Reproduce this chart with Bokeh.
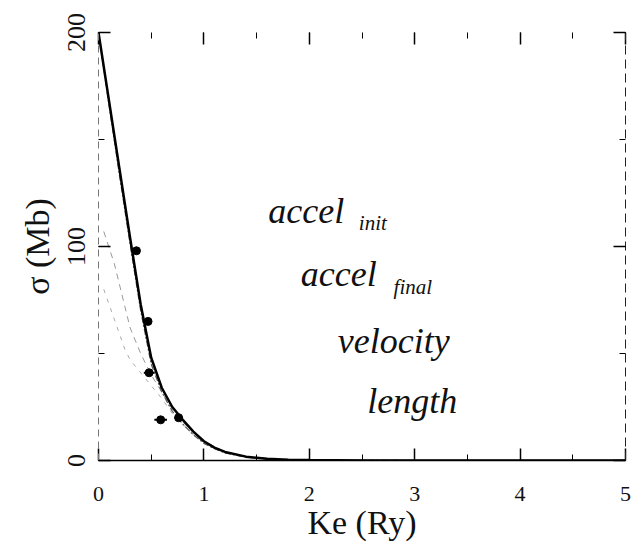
from bokeh.plotting import figure
from bokeh.models import LinearAxis, SingleIntervalTicker, ColumnDataSource, CustomLabelingPolicy
from bokeh.core.properties import value
from bokeh.embed import file_html
from bokeh.resources import INLINE

# ---- data ----
ke = [0.0, 0.1, 0.2, 0.3, 0.4, 0.5, 0.6, 0.7, 0.8, 0.9, 1.0, 1.1, 1.2, 1.4, 1.6, 1.8, 2.0, 2.5, 3.0, 4.0, 5.0]
accel_init = [200, 168, 136, 104, 73, 48, 34, 25, 19, 13.5, 9, 6, 4, 1.8, 0.8, 0.4, 0.2, 0.05, 0, 0, 0]
accel_final = [200, 166, 133, 101, 70, 45, 32, 23, 17, 12, 8, 5.5, 3.5, 1.5, 0.7, 0.3, 0.15, 0.05, 0, 0, 0]

ke_thr = [0.05, 0.15, 0.25, 0.3, 0.4, 0.5, 0.6, 0.7, 0.8, 0.9, 1.0, 1.2, 1.4, 1.6, 2.0, 3.0, 5.0]
velocity = [107, 92, 72, 62, 50, 40, 32, 24, 18, 13, 9, 4, 1.8, 0.8, 0.2, 0, 0]
length = [80, 66, 52, 47, 41, 35, 29, 22, 17, 12, 8.5, 3.8, 1.6, 0.7, 0.2, 0, 0]

exp_ke = [0.36, 0.47, 0.48, 0.59, 0.76]
exp_sigma = [98, 65, 41, 19, 20]
exp_err = [0.03, 0.03, 0.05, 0.06, 0.04]

labels_main = ["accel", "accel", "velocity", "length"]
labels_sub = ["init", "final"]

# ---- figure ----
p = figure(width=635, height=548, x_range=(0, 5), y_range=(0, 200),
           output_backend="svg", toolbar_location=None,
           min_border_left=98, min_border_right=10, min_border_top=32, min_border_bottom=88)
p.background_fill_color = "white"
p.border_fill_color = "white"
p.outline_line_color = None
p.grid.visible = False

serif = "Liberation Serif"

xa = p.xaxis[0]
xa.ticker = SingleIntervalTicker(interval=1, num_minor_ticks=2)
xa.axis_label = "Ke (Ry)"
xa.axis_label_text_font = serif
xa.axis_label_text_font_style = "normal"
xa.axis_label_text_font_size = "34px"
xa.axis_label_text_color = "#111111"
xa.axis_label_standoff = 0
xa.major_label_text_font = serif
xa.major_label_text_font_size = "22px"
xa.major_label_text_color = "#111111"
xa.major_label_standoff = 26
xa.major_tick_in = 12
xa.major_tick_out = 0
xa.minor_tick_in = 6
xa.minor_tick_out = 0
xa.axis_line_width = 1.5
xa.major_tick_line_width = 1.5

ya = p.yaxis[0]
ya.ticker = SingleIntervalTicker(interval=100, num_minor_ticks=2)
ya.axis_label = "σ (Mb)"
ya.axis_label_text_font = serif
ya.axis_label_text_font_style = "normal"
ya.axis_label_text_font_size = "34px"
ya.axis_label_text_color = "#111111"
ya.axis_label_standoff = 9
ya.major_label_text_font = serif
ya.major_label_text_font_size = "26px"
ya.major_label_text_color = "#111111"
ya.major_label_orientation = "vertical"
ya.major_label_standoff = 14
ya.major_tick_in = 12
ya.major_tick_out = 0
ya.minor_tick_in = 6
ya.minor_tick_out = 0
ya.axis_line_color = "#777777"
ya.axis_line_dash = "7 5"
ya.major_tick_line_width = 1.5

no_labels = "for (const i of indices) { if (false) yield i }"

top = LinearAxis(ticker=SingleIntervalTicker(interval=1, num_minor_ticks=2),
                 major_label_policy=CustomLabelingPolicy(code=no_labels),
                 major_label_text_font_size="2px", major_label_standoff=0,
                 axis_line_color=None,
                 major_tick_in=12, major_tick_out=0, minor_tick_in=6, minor_tick_out=0,
                 major_tick_line_width=1.5)
p.add_layout(top, "above")

right = LinearAxis(ticker=SingleIntervalTicker(interval=100, num_minor_ticks=2),
                   major_label_policy=CustomLabelingPolicy(code=no_labels),
                   major_label_text_font_size="2px", major_label_standoff=0,
                   axis_line_color="#222222", axis_line_dash="9 5",
                   major_tick_in=12, major_tick_out=0, minor_tick_in=6, minor_tick_out=0,
                   major_tick_line_width=1.5)
p.add_layout(right, "right")

# ---- curves ----
p.line(ke_thr, length, line_color="#aaaaaa", line_width=1, line_dash="4 6")
p.line(ke_thr, velocity, line_color="#999999", line_width=1, line_dash="6 5")
p.line(ke, accel_final, line_color="#555555", line_width=1.2, line_dash="6 2 2 2")
p.line(ke, accel_init, line_color="black", line_width=2.5)

# ---- experimental points ----
src = ColumnDataSource(dict(x=exp_ke, y=exp_sigma,
                            x0=[a - e for a, e in zip(exp_ke, exp_err)],
                            x1=[a + e for a, e in zip(exp_ke, exp_err)]))
p.segment(x0="x0", y0="y", x1="x1", y1="y", source=src, line_color="black", line_width=2)
p.scatter(x="x", y="y", source=src, size=8, marker="circle", fill_color="black", line_color="black")

# ---- curve labels ----
main_x = [1.61, 1.92, 2.27, 2.55]
main_y = [116.8, 87, 56, 28]
p.text(x=main_x, y=main_y, text=labels_main, text_font=value(serif),
       text_font_style="italic", text_font_size="36px", text_color="#111111",
       text_baseline="alphabetic", text_align="left")
sub_x = [2.47, 2.80]
sub_y = [111, 81]
p.text(x=sub_x, y=sub_y, text=labels_sub, text_font=value(serif),
       text_font_style="italic", text_font_size="21px", text_color="#111111",
       text_baseline="alphabetic", text_align="left")

open("out.html", "w").write(file_html(p, INLINE))
